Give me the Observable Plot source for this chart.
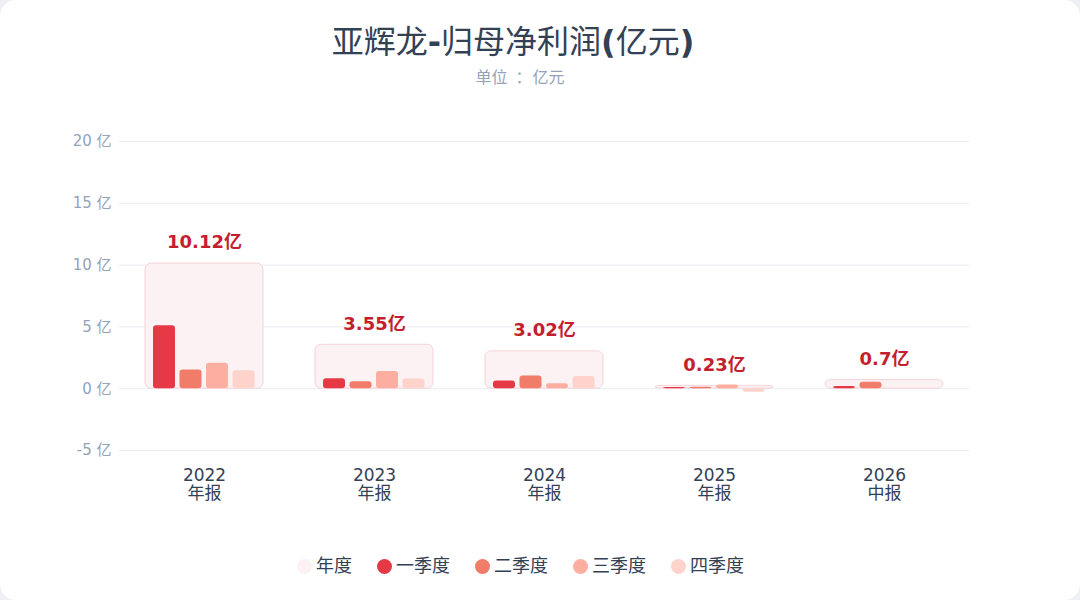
<!DOCTYPE html>
<html>
<head>
<meta charset="utf-8">
<script src="https://cdn.jsdelivr.net/npm/d3@7"></script>
<script src="https://cdn.jsdelivr.net/npm/@observablehq/plot@0.6"></script>
<style>
  html, body { margin: 0; padding: 0; background: #eef0f3; }
  #card { position: relative; width: 1080px; height: 600px; background: #fff; border-radius: 16px; overflow: hidden;
    font-family: "DejaVu Sans", "Noto Sans CJK SC", sans-serif; }
  #title { position: absolute; top: 20px; left: 0; width: 1026px; text-align: center; font-size: 32px; line-height: 44px; color: #334155; font-weight: normal; }
  #title b { font-weight: bold; }
  #subtitle { position: absolute; top: 65px; left: 0; width: 1040px; text-align: center; font-size: 16px; line-height: 22px; color: #94a3b8; font-family: "Noto Sans CJK SC", sans-serif; }
  #subtitle .colon { padding: 0 1px 0 8px; }
  #chart { position: absolute; top: 100px; left: 0; }
  #legend { position: absolute; top: 554px; left: 297px; display: flex; gap: 25px; font-size: 18px; color: #334155; line-height: 24px; }
  .item { display: flex; align-items: center; gap: 4px; }
  .dot { width: 15px; height: 15px; border-radius: 50%; display: inline-block; }
</style>
</head>
<body>
<div id="card">
  <div id="title">亚辉龙<b>-</b>归母净利润<b>(</b>亿元<b>)</b></div>
  <div id="subtitle">单位<span class="colon">：</span>亿元</div>
  <div id="chart"></div>
  <div id="legend"></div>
</div>
<script>
const years = ["2022", "2023", "2024", "2025", "2026"];
const reportTypes = ["年报", "年报", "年报", "年报", "中报"];
const annual = [10.12, 3.55, 3.02, 0.23, 0.7];
const q1 = [5.1, 0.8, 0.62, 0.1, 0.18];
const q2 = [1.51, 0.57, 1.02, 0.12, 0.52];
const q3 = [2.05, 1.4, 0.4, 0.3, null];
const q4 = [1.46, 0.78, 0.98, -0.29, null];
const yTicks = [-5, 0, 5, 10, 15, 20];
const seriesNames = ["年度", "一季度", "二季度", "三季度", "四季度"];
const seriesColors = ["#fcf1f3", "#e63946", "#f07c69", "#fcaea0", "#fdd3cb"];

const quarters = [q1, q2, q3, q4];
const annualData = years.map((y, i) => ({year: y, value: annual[i]}));
const quarterData = quarters.map(q => years.map((y, i) => ({year: y, value: q[i]})).filter(d => d.value != null));
const typeOf = Object.fromEntries(years.map((y, i) => [y, reportTypes[i]]));

const bandW = 118, barW = 22, step = 26.5, lead = 8;
const quarterMarks = quarterData.map((data, k) => Plot.barY(data, {
  x: "year", y: "value",
  fill: seriesColors[k + 1],
  insetLeft: lead + step * k,
  insetRight: bandW - (lead + step * k + barW),
  rx: 3
}));

const chart = Plot.plot({
  width: 1080,
  height: 430,
  marginLeft: 119,
  marginRight: 111,
  marginTop: 41,
  marginBottom: 80,
  style: {fontFamily: "'DejaVu Sans', 'Noto Sans CJK SC', sans-serif", background: "transparent"},
  x: {domain: years, paddingInner: 0.306, paddingOuter: 0.153, label: null},
  y: {domain: [-5, 20], label: null},
  marks: [
    Plot.ruleY(yTicks, {stroke: "#e9ecf1", strokeWidth: 1}),
    Plot.barY(annualData, {x: "year", y: "value", fill: seriesColors[0], stroke: "#f5d3d9", strokeWidth: 1, rx: 6}),
    ...quarterMarks,
    Plot.text(annualData, {x: "year", y: "value", text: d => `${d.value}亿`, dy: -21, fill: "#c41e2f", fontSize: 18, fontWeight: "bold"}),
    Plot.axisY(yTicks, {tickSize: 0, tickPadding: 8, tickFormat: d => `${d} 亿`, fontSize: 15, fill: "#94a3b8", label: null}),
    Plot.axisX({tickSize: 0, tickPadding: 18, tickFormat: d => `${d}\n${typeOf[d]}`, fontSize: 17, fill: "#334155", label: null, lineHeight: 1.06})
  ]
});
document.getElementById("chart").appendChild(chart);

const legend = document.getElementById("legend");
seriesNames.forEach((n, i) => {
  const it = document.createElement("div");
  it.className = "item";
  it.innerHTML = `<span class="dot" style="background:${seriesColors[i]}"></span><span>${n}</span>`;
  legend.appendChild(it);
});
</script>
</body>
</html>
